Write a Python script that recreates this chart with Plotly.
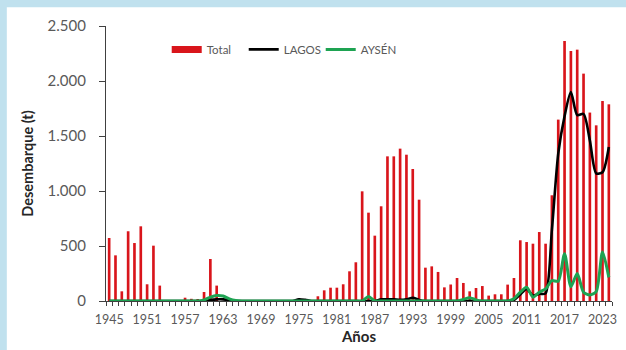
import plotly.graph_objects as go

years = list(range(1945, 2025))

total = [573, 415, 88, 634, 527, 679, 152, 503, 140, 0,
         0, 0, 30, 20, 10, 82, 382, 140, 0, 0,
         0, 0, 0, 0, 0, 0, 0, 0, 0, 0,
         0, 0, 0, 43, 97, 121, 121, 152, 270, 352,
         997, 803, 594, 861, 1315, 1315, 1385, 1330, 1200, 921,
         303, 315, 264, 124, 150, 209, 164, 88, 118, 136,
         49, 61, 61, 149, 209, 552, 536, 521, 627, 521,
         961, 1649, 2364, 2273, 2285, 2067, 1713, 1597, 1818, 1788]

lagos = [0, 0, 0, 0, 0, 0, 0, 0, 0, 0,
         0, 0, 0, 0, 0, 0, 10, 15, 15, 10,
         0, 0, 0, 0, 0, 0, 0, 0, 0, 0,
         15, 10, 0, 0, 0, 0, 0, 0, 0, 0,
         0, 0, 0, 15, 15, 15, 10, 15, 30, 10,
         0, 0, 0, 0, 0, 0, 0, 0, 0, 0,
         0, 0, 0, 0, 10, 60, 110, 50, 65, 70,
         650, 1340, 1680, 1900, 1690, 1700, 1460, 1160, 1170, 1400]

aysen = [0, 0, 0, 0, 0, 0, 0, 0, 0, 0,
         0, 0, 0, 0, 0, 10, 35, 50, 45, 20,
         5, 0, 0, 0, 0, 0, 0, 0, 0, 0,
         0, 0, 0, 0, 0, 0, 0, 0, 0, 0,
         0, 40, 0, 0, 0, 0, 0, 0, 0, 0,
         0, 0, 0, 0, 0, 0, 15, 30, 10, 0,
         0, 0, 0, 0, 20, 80, 125, 35, 80, 110,
         185, 180, 430, 130, 250, 80, 55, 85, 445, 215]

label_years = list(range(1945, 2024, 6))
y_ticks = [0, 500, 1000, 1500, 2000, 2500]

FONT = "Lato"
GRAY = "#595959"
RED = "#d9151b"
BLUE_BG = "#c0e1ee"

fig = go.Figure()
fig.add_trace(go.Bar(x=years, y=total, name="Total", showlegend=False,
                     marker=dict(color=RED, line=dict(width=0)),
                     width=0.42))
# legend-only entry drawn as a wide red swatch, like the original
fig.add_trace(go.Scatter(x=[None], y=[None], name="Total", mode="lines",
                         line=dict(color=RED, width=7)))
fig.add_trace(go.Scatter(x=years, y=lagos, name="LAGOS", mode="lines",
                         line=dict(color="#000000", width=2.6, shape="spline", smoothing=0.7)))
fig.add_trace(go.Scatter(x=years, y=aysen, name="AYSÉN", mode="lines",
                         line=dict(color="#1ea352", width=3, shape="spline", smoothing=0.7)))

minor_vals = [y - 0.5 for y in years] + [years[-1] + 0.5]

fig.update_layout(
    width=626, height=350,
    margin=dict(l=106, r=14, t=26, b=49, autoexpand=False),
    paper_bgcolor=BLUE_BG,
    plot_bgcolor="white",
    separators=",.",
    font=dict(family=FONT, color=GRAY),
    showlegend=True,
    legend=dict(orientation="h", x=0.12, y=0.915, xanchor="left", yanchor="middle",
                font=dict(size=11.5, color=GRAY), bgcolor="rgba(0,0,0,0)",
                traceorder="normal", itemwidth=30,
                entrywidth=32, entrywidthmode="pixels"),
    bargap=0.6,
    shapes=[dict(type="rect", xref="paper", yref="paper",
                 x0=-0.196, x1=1.03, y0=-0.2, y1=1.068,
                 fillcolor="white", line=dict(width=0), layer="below")],
)

fig.update_xaxes(
    range=[1944.5, 2024.5], automargin=False,
    tickmode="array", tickvals=label_years, ticktext=[str(v) for v in label_years],
    ticks="", showgrid=False, zeroline=False,
    showline=True, linecolor="#404040", linewidth=1.2,
    tickfont=dict(size=12.5, color=GRAY, family=FONT),
    ticklabelstandoff=7,
    minor=dict(tickmode="array", tickvals=minor_vals, ticks="outside",
               ticklen=4, tickcolor="#404040", tickwidth=1, showgrid=False),
    title=dict(text="<b>Años</b>", font=dict(size=15, color="#262626", family=FONT), standoff=5),
)

fig.update_yaxes(
    range=[0, 2500], automargin=False,
    tickmode="array", tickvals=y_ticks,
    tickformat=",d",
    ticks="outside", ticklen=6, tickcolor="#404040", tickwidth=1,
    showgrid=False, zeroline=False,
    showline=True, linecolor="#404040", linewidth=1.2,
    tickfont=dict(size=15, color=GRAY, family=FONT),
    ticklabelstandoff=10,
    title=dict(text="<b>Desembarque (t)</b>", font=dict(size=14.5, color="#262626", family=FONT), standoff=10),
)

fig.write_html("out.html", config={"displayModeBar": False},
               post_script="document.body.style.margin='0';document.body.style.background='%s';" % BLUE_BG)
